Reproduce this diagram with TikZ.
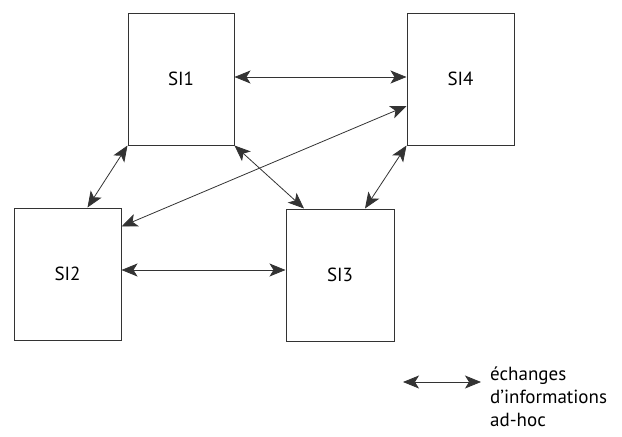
\documentclass[tikz,border=0pt]{standalone}
\usepackage{fontspec}
\setmainfont{PT Sans}
\usetikzlibrary{arrows.meta}
\begin{document}
\begin{tikzpicture}[x=1pt,y=-1pt,
  sibox/.style={draw=black!80,line width=1pt,minimum width=#1,minimum height=132pt,inner sep=0pt,font=\fontsize{19}{21}\selectfont},
  link/.style={draw=black!80,line width=0.8pt,{Stealth[length=16pt,width=13pt,inset=4pt]}-{Stealth[length=16pt,width=13pt,inset=4pt]}}]
\useasboundingbox (0,0) rectangle (622,437);
\node[sibox=106pt] (SI1) at (181,79) {SI1};
\node[sibox=107pt] (SI4) at (460.5,79) {SI4};
\node[sibox=107pt] (SI2) at (67.5,274) {SI2};
\node[sibox=108pt] (SI3) at (340,275) {SI3};
\draw[link] ([yshift=2pt]SI1.east) -- ([yshift=2pt]SI4.west);
\draw[link] (SI1.south west) -- ([xshift=20pt]SI2.north);
\draw[link] (SI1.south east) -- ([xshift=-36pt]SI3.north);
\draw[link] ([yshift=-27pt]SI4.west) -- ([yshift=-19pt]SI2.north east);
\draw[link] (SI4.south west) -- ([xshift=25pt]SI3.north);
\draw[link] ([yshift=4pt]SI2.east) -- ([yshift=5pt]SI3.west);
\coordinate (L1) at (403,382);
\coordinate (L2) at (481,382);
\draw[link] (L1) -- (L2);
\node[anchor=north west,align=left,inner sep=0pt,font=\fontsize{19}{23}\selectfont] (legend) at (490,367) {échanges\\d’informations\\ad-hoc};
\end{tikzpicture}
\end{document}
